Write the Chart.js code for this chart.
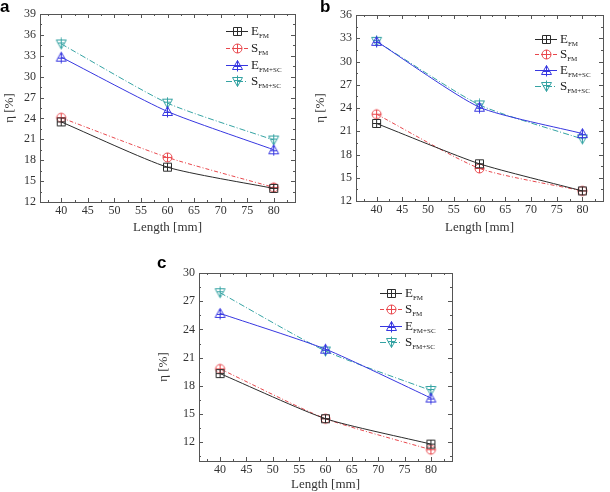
<!DOCTYPE html>
<html><head><meta charset="utf-8">
<script src="https://cdn.jsdelivr.net/npm/chart.js@4/dist/chart.umd.min.js"></script>
<style>
html,body{margin:0;padding:0;background:#fff;width:610px;height:492px;overflow:hidden;}
.wrap{position:absolute;}
.lbl{position:absolute;font:bold 17px "Liberation Sans",Arial,sans-serif;color:#000;}
</style></head><body>
<div class="wrap" style="left:0;top:0;width:305px;height:235px"><canvas id="ca"></canvas></div>
<div class="wrap" style="left:305px;top:0;width:305px;height:235px"><canvas id="cb"></canvas></div>
<div class="wrap" style="left:150px;top:235px;width:320px;height:257px"><canvas id="cc"></canvas></div>
<div class="lbl" style="left:0;top:-3px">a</div>
<div class="lbl" style="left:320px;top:-3px">b</div>
<div class="lbl" style="left:157px;top:253px">c</div>
<script>
// ---- data ----
const lengths = [40, 60, 80];
const xTicks = [40, 45, 50, 55, 60, 65, 70, 75, 80];
const seriesNames = ["E|FM", "S|FM", "E|FM+SC", "S|FM+SC"];

const aEfm   = [23.5, 17.0, 13.95];
const aSfm   = [24.1, 18.4, 14.1];
const aEfmSc = [32.8, 25.0, 19.5];
const aSfmSc = [34.7, 26.2, 20.9];
const aYTicks = [12, 15, 18, 21, 24, 27, 30, 33, 36, 39];

const bEfm   = [22.0, 16.8, 13.3];
const bSfm   = [23.2, 16.2, 13.3];
const bEfmSc = [32.6, 24.1, 20.7];
const bSfmSc = [32.6, 24.4, 20.0];
const bYTicks = [12, 15, 18, 21, 24, 27, 30, 33, 36];

const cEfm   = [19.3, 14.5, 11.8];
const cSfm   = [19.8, 14.5, 11.2];
const cEfmSc = [25.7, 21.9, 16.7];
const cSfmSc = [27.9, 21.7, 17.5];
const cYTicks = [12, 15, 18, 21, 24, 27, 30];

// ---- styles ----
const colors = ["#2b2b2b", "#e8474c", "#3737e0", "#35a3a3"];
const dashes = [[], [4,2,1,2], [], [6,2,1,2]];
const shapes = ["square", "circle", "triUp", "triDown"];
const SERIF = '"Liberation Serif","Times New Roman",serif';

function markerImg(shape, color){
  const c = document.createElement('canvas');
  c.width = 13; c.height = 13;
  const g = c.getContext('2d');
  g.strokeStyle = color; g.lineWidth = 1;
  g.beginPath();
  if (shape === 'square') {
    g.rect(2.5, 2.5, 8, 8);
    g.moveTo(6.5, 2.5); g.lineTo(6.5, 10.5); g.moveTo(2.5, 6.5); g.lineTo(10.5, 6.5);
  } else if (shape === 'circle') {
    g.arc(6.5, 6.5, 4.5, 0, Math.PI*2);
    g.moveTo(6.5, 2); g.lineTo(6.5, 11); g.moveTo(2, 6.5); g.lineTo(11, 6.5);
  } else if (shape === 'triUp') {
    g.moveTo(6.5, 1.5); g.lineTo(11.5, 10.5); g.lineTo(1.5, 10.5); g.closePath();
    g.moveTo(6.5, 1.5); g.lineTo(6.5, 12.5); g.moveTo(3, 7.5); g.lineTo(10, 7.5);
  } else {
    g.moveTo(1.5, 2.5); g.lineTo(11.5, 2.5); g.lineTo(6.5, 11.5); g.closePath();
    g.moveTo(6.5, 0.5); g.lineTo(6.5, 11.5); g.moveTo(3, 5.5); g.lineTo(10, 5.5);
  }
  g.stroke();
  return c;
}
const markers = shapes.map((s, i) => markerImg(s, colors[i]));

// box + inward ticks plugin
const framePlugin = {
  id: 'frame',
  afterDraw(chart, args, opts) {
    const {ctx, chartArea: a} = chart;
    const xs = chart.scales.x, ys = chart.scales.y;
    ctx.save();
    ctx.strokeStyle = '#555'; ctx.lineWidth = 1;
    ctx.strokeRect(Math.round(a.left)+0.5, Math.round(a.top)+0.5, Math.round(a.right-a.left), Math.round(a.bottom-a.top));
    ctx.beginPath();
    const tick = (v, len, axis) => {
      if (axis === 'x') {
        const p = Math.round(xs.getPixelForValue(v)) + 0.5;
        ctx.moveTo(p, a.bottom); ctx.lineTo(p, a.bottom - len);
        ctx.moveTo(p, a.top); ctx.lineTo(p, a.top + len);
      } else {
        const p = Math.round(ys.getPixelForValue(v)) + 0.5;
        ctx.moveTo(a.left, p); ctx.lineTo(a.left + len, p);
        ctx.moveTo(a.right, p); ctx.lineTo(a.right - len, p);
      }
    };
    opts.xMajor.forEach(v => tick(v, 4, 'x'));
    for (let i = 0; i < opts.xMajor.length - 1; i++) tick((opts.xMajor[i] + opts.xMajor[i+1]) / 2, 2, 'x');
    tick(opts.xMajor[0] - 2.5, 2, 'x'); tick(opts.xMajor[opts.xMajor.length-1] + 2.5, 2, 'x');
    opts.yMajor.forEach(v => tick(v, 4, 'y'));
    for (let i = 0; i < opts.yMajor.length - 1; i++) tick((opts.yMajor[i] + opts.yMajor[i+1]) / 2, 2, 'y');
    if (ys.min < opts.yMajor[0] - 1.5) tick(opts.yMajor[0] - 1.5, 2, 'y');
    ctx.stroke();
    ctx.restore();
  }
};

// custom legend with subscripts
const legendPlugin = {
  id: 'subLegend',
  afterDatasetsDraw(chart, args, opts) {
    const ctx = chart.ctx;
    ctx.save();
    chart.data.datasets.forEach((ds, i) => {
      const y = Math.round(opts.y0 + i * opts.dy);
      ctx.strokeStyle = ds.borderColor; ctx.lineWidth = 1;
      ctx.setLineDash(ds.borderDash || []);
      ctx.beginPath(); ctx.moveTo(opts.x0, y + 0.5); ctx.lineTo(opts.x0 + 22, y + 0.5); ctx.stroke();
      ctx.setLineDash([]);
      ctx.drawImage(markers[i], opts.x0 + 11 - 6, y - 6);
      const [main, sub] = seriesNames[i].split('|');
      ctx.fillStyle = '#222';
      ctx.textBaseline = 'alphabetic'; ctx.textAlign = 'left';
      ctx.font = '13px ' + SERIF;
      const tx = opts.x0 + 25;
      ctx.fillText(main, tx, y + 4);
      const w = ctx.measureText(main).width;
      ctx.font = '7px ' + SERIF;
      ctx.fillText(sub, tx + w, y + 7);
    });
    ctx.restore();
  }
};

function makeChart(id, vals, yMin, yMax, yTicks, pad, yW, xH, leg) {
  const datasets = vals.map((v, i) => ({
    label: seriesNames[i].replace('|', ''),
    data: lengths.map((x, j) => ({x, y: v[j]})),
    borderColor: colors[i],
    borderWidth: 1,
    borderDash: dashes[i],
    pointStyle: markers[i],
    pointRadius: 6,
    backgroundColor: 'transparent',
    tension: 0.2,
    fill: false
  }));
  return new Chart(document.getElementById(id), {
    type: 'line',
    data: {datasets},
    plugins: [framePlugin, legendPlugin],
    options: {
      responsive: true, maintainAspectRatio: false, animation: false,
      layout: {padding: pad},
      plugins: {
        legend: {display: false}, tooltip: {enabled: false},
        frame: {xMajor: xTicks, yMajor: yTicks},
        subLegend: leg
      },
      scales: {
        x: {
          type: 'linear', min: 36, max: 84,
          afterBuildTicks: s => { s.ticks = xTicks.map(v => ({value: v})); },
          afterFit: s => { s.height = xH; },
          grid: {display: false, drawTicks: false}, border: {display: false},
          ticks: {font: {family: SERIF, size: 12}, color: '#333', padding: 2, maxRotation: 0, autoSkip: false},
          title: {display: true, text: 'Length [mm]', font: {family: SERIF, size: 13}, color: '#333', padding: {top: 0, bottom: 0}}
        },
        y: {
          type: 'linear', min: yMin, max: yMax,
          afterBuildTicks: s => { s.ticks = yTicks.map(v => ({value: v})); },
          afterFit: s => { s.width = yW; },
          grid: {display: false, drawTicks: false}, border: {display: false},
          ticks: {font: {family: SERIF, size: 12}, color: '#333', padding: 4, autoSkip: false},
          title: {display: true, text: 'η [%]', font: {family: SERIF, size: 13}, color: '#333', padding: {top: 0, bottom: 2}}
        }
      }
    }
  });
}

makeChart('ca', [aEfm, aSfm, aEfmSc, aSfmSc], 12, 39, aYTicks,
  {left: 2, top: 14, right: 10, bottom: 0}, 38, 33, {x0: 226, y0: 31, dy: 16.8});
makeChart('cb', [bEfm, bSfm, bEfmSc, bSfmSc], 12, 36, bYTicks,
  {left: 8, top: 15, right: 2, bottom: 0}, 43, 34, {x0: 230, y0: 38.5, dy: 15.8});
makeChart('cc', [cEfm, cSfm, cEfmSc, cSfmSc], 10, 30, cYTicks,
  {left: 6, top: 38, right: 18, bottom: 0}, 43, 31, {x0: 230, y0: 57.5, dy: 16.5});
</script>
</body></html>
